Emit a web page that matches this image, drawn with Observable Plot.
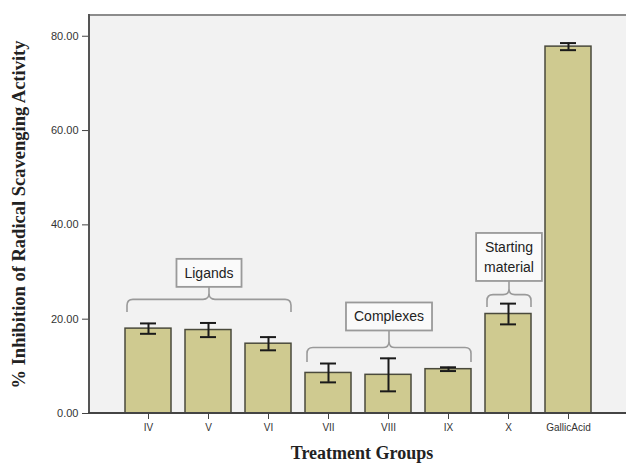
<!DOCTYPE html>
<html><head><meta charset="utf-8">
<script src="https://cdn.jsdelivr.net/npm/d3@7"></script>
<script src="https://cdn.jsdelivr.net/npm/@observablehq/plot@0.6"></script>
<style>body{margin:0;background:#fff}</style>
</head><body><div id="chart"></div>
<script>
// Data
const groups = ["IV", "V", "VI", "VII", "VIII", "IX", "X", "GallicAcid"];
const means  = [18.0, 17.7, 14.8, 8.6, 8.2, 9.4, 21.1, 77.8];
const errors = [1.1, 1.5, 1.4, 2.0, 3.5, 0.4, 2.2, 0.75];
const yTicks = [0, 20, 40, 60, 80];

// Annotation brackets (group label, first & last category, levels in data units)
const annLabels = [["Ligands"], ["Complexes"], ["Starting", "material"]];
const annFrom   = ["IV", "VII", "X"];
const annTo     = ["VI", "IX", "X"];
const annEndY   = [21.4, 10.8, 22.5];
const annMidY   = [24.1, 13.9, 25.1];
const annBoxY   = [26.75, 17.5, 28.0];

const yMax = 84.4;
const data = groups.map((g, i) => ({group: g, mean: means[i], lo: means[i] - errors[i], hi: means[i] + errors[i]}));

function overlay(index, scales, values, dimensions) {
  const x = scales.x, y = scales.y;
  const bw = typeof x.bandwidth === "function" ? x.bandwidth() : 46;
  const g = d3.create("svg:g");
  const {marginLeft, marginTop, width, height, marginBottom} = dimensions;
  const bottom = height - marginBottom;
  // axis lines
  g.append("line").attr("x1", marginLeft - 1).attr("x2", width).attr("y1", marginTop).attr("y2", marginTop)
    .attr("stroke", "#8c8c8c").attr("stroke-width", 2);
  g.append("line").attr("x1", marginLeft).attr("x2", marginLeft).attr("y1", marginTop - 1).attr("y2", bottom)
    .attr("stroke", "#555").attr("stroke-width", 2);
  g.append("line").attr("x1", marginLeft - 1).attr("x2", width).attr("y1", bottom).attr("y2", bottom)
    .attr("stroke", "#444").attr("stroke-width", 2);

  const ctx = document.createElement("canvas").getContext("2d");
  ctx.font = "14px 'Liberation Sans', Arial, sans-serif";
  annLabels.forEach((lines, i) => {
    const x1 = x(annFrom[i]) + 2, x2 = x(annTo[i]) + bw;
    const xc = (x1 + x2) / 2;
    const yl = y(annEndY[i]), ym = y(annMidY[i]), yb = y(annBoxY[i]);
    const r = 6;
    const d = `M${x1},${yl} L${x1},${ym + r} Q${x1},${ym} ${x1 + r},${ym} L${xc - r},${ym} Q${xc},${ym} ${xc},${ym - r} L${xc},${yb}` +
              ` M${xc},${ym - r} Q${xc},${ym} ${xc + r},${ym} L${x2 - r},${ym} Q${x2},${ym} ${x2},${ym + r} L${x2},${yl}`;
    g.append("path").attr("d", d).attr("fill", "none").attr("stroke", "#9a9a9a").attr("stroke-width", 1.6);
    const w = d3.max(lines, s => ctx.measureText(s).width) + 16;
    const h = lines.length * 20 + 8;
    g.append("rect").attr("x", xc - w / 2).attr("y", yb - h).attr("width", w).attr("height", h)
      .attr("fill", "#fafafa").attr("stroke", "#9a9a9a").attr("stroke-width", 1.8);
    lines.forEach((s, j) => {
      g.append("text").attr("x", xc).attr("y", yb - h + 14 + j * 20)
        .attr("text-anchor", "middle").attr("dominant-baseline", "central")
        .attr("font-family", "'Liberation Sans', Arial, sans-serif").attr("font-size", 14)
        .attr("fill", "#222").text(s);
    });
  });
  return g.node();
}

const chart = Plot.plot({
  width: 626,
  height: 463,
  marginLeft: 89,
  marginRight: 0,
  marginTop: 15,
  marginBottom: 50,
  style: {fontFamily: "'Liberation Sans', Arial, sans-serif", color: "#333", background: "#fff"},
  x: {domain: groups, paddingInner: 0.24, paddingOuter: 0.56, label: null},
  y: {domain: [0, yMax], label: null},
  marks: [
    Plot.frame({fill: "#f2f2f2", stroke: null}),
    Plot.barY(data, {x: "group", y: "mean", fill: "#cfca90", stroke: "#4a4a3c", strokeWidth: 1.5}),
    Plot.ruleX(data, {x: "group", y1: "lo", y2: "hi", stroke: "#1a1a1a", strokeWidth: 2}),
    Plot.tickY(data, {x: "group", y: "hi", insetLeft: 15, insetRight: 15, stroke: "#1a1a1a", strokeWidth: 2}),
    Plot.tickY(data, {x: "group", y: "lo", insetLeft: 15, insetRight: 15, stroke: "#1a1a1a", strokeWidth: 2}),
    Plot.axisY({ticks: yTicks, tickFormat: d => d.toFixed(2), tickSize: 7, tickPadding: 4, fontSize: 11, stroke: "#444", label: null}),
    Plot.axisX({tickSize: 6, tickPadding: 4, fontSize: 10, stroke: "#444", label: null}),
    Plot.text(["% Inhibition of Radical Scavenging Activity"], {frameAnchor: "left", rotate: -90, dx: -70, textAnchor: "middle",
      fontFamily: "'Liberation Serif', 'Times New Roman', serif", fontWeight: "bold", fontSize: 18.5, fill: "#222"}),
    Plot.text(["Treatment Groups"], {frameAnchor: "bottom", dy: 45, dx: 4,
      fontFamily: "'Liberation Serif', 'Times New Roman', serif", fontWeight: "bold", fontSize: 18, fill: "#222"}),
    overlay
  ]
});
document.getElementById("chart").appendChild(chart);
</script>
</body></html>
